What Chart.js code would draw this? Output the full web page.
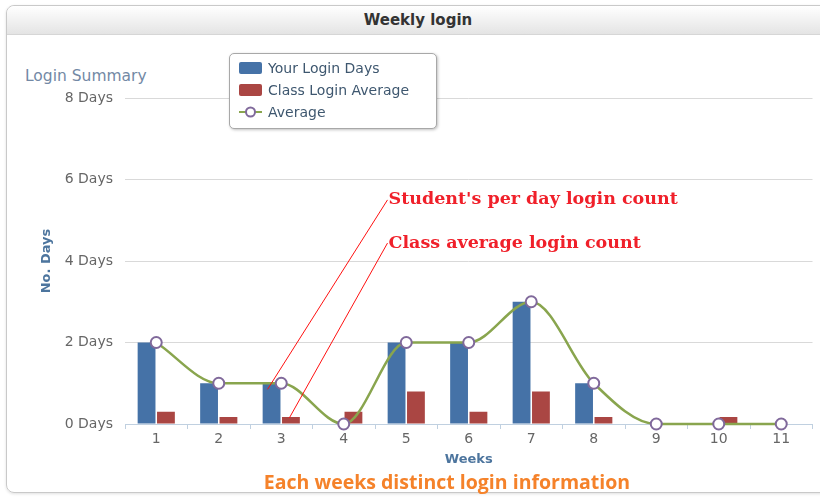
<!DOCTYPE html>
<html>
<head>
<meta charset="utf-8">
<script src="https://cdn.jsdelivr.net/npm/chart.js@4/dist/chart.umd.min.js"></script>
<style>
  body { margin: 0; width: 820px; height: 498px; overflow: hidden; background: #fff; position: relative; font-family: "DejaVu Sans", sans-serif; }
  .panel { position: absolute; left: 6px; top: 5px; width: 840px; height: 486px; border: 1px solid #c9c9c9; border-radius: 8px; box-shadow: 0 1px 3px rgba(0,0,0,0.12); }
  .head { position: absolute; left: 0; top: 0; right: 0; height: 28px; background: linear-gradient(#ffffff, #e4e4e4); border-bottom: 1px solid #d6d6d6; border-radius: 8px 8px 0 0; }
  .title { position: absolute; left: 0; top: 11px; width: 836px; text-align: center; font-weight: bold; font-size: 15px; color: #333; }
  .summary { position: absolute; left: 25px; top: 67px; font-size: 15.5px; color: #7389a5; }
  .caption { position: absolute; left: 0; width: 894px; top: 468px; text-align: center; font-family: "Open Sans", sans-serif; font-weight: bold; font-size: 19.5px; color: #f5822a; }
  canvas { position: absolute; left: 0; top: 0; }
  #legend { position: absolute; left: 229px; top: 53px; width: 206px; height: 74px; border: 1px solid #a8a8a8; border-radius: 5px; background: #fff; box-shadow: 1px 1px 3px rgba(0,0,0,0.25); padding: 0; }
  #legend div { position: absolute; left: 9px; height: 20px; font-size: 14px; color: #3e576f; white-space: nowrap; }
  #legend .sym { display: inline-block; width: 23px; height: 12px; vertical-align: -1px; margin-right: 6px; border-radius: 2px; position: relative; }
</style>
</head>
<body>
<div class="panel"><div class="head"></div></div>
<div class="title">Weekly login</div>
<div class="summary">Login Summary</div>
<canvas id="loginChart" width="820" height="498"></canvas>
<div id="legend"></div>
<div class="caption">Each weeks distinct login information</div>
<script>
const weeks = ['1', '2', '3', '4', '5', '6', '7', '8', '9', '10', '11'];
const yourLoginDays = [2, 1, 1, 0, 2, 2, 3, 1, 0, 0, 0];
const classLoginAverage = [0.3, 0.17, 0.17, 0.3, 0.8, 0.3, 0.8, 0.17, 0, 0.17, 0];
const averageDays = [2, 1, 1, 0, 2, 2, 3, 1, 0, 0, 0];
const yTicks = [0, 2, 4, 6, 8];

// red call-outs, in (week index, days) space
const callouts = [
  { text: "Student's per day login count", from: [1.78, 0.85], to: [3.7, 5.5] },
  { text: 'Class average login count', from: [2.13, 0.15], to: [3.7, 4.44] }
];

const calloutPlugin = {
  id: 'callouts',
  afterDatasetsDraw(chart) {
    const { ctx, scales: { x, y } } = chart;
    ctx.save();
    ctx.strokeStyle = '#ff1010';
    ctx.lineWidth = 1;
    ctx.fillStyle = '#f0202a';
    ctx.font = 'bold 17.5px "DejaVu Serif", serif';
    ctx.textBaseline = 'middle';
    callouts.forEach(c => {
      const x1 = x.getPixelForValue(c.from[0]), y1 = y.getPixelForValue(c.from[1]);
      const x2 = x.getPixelForValue(c.to[0]), y2 = y.getPixelForValue(c.to[1]);
      ctx.beginPath();
      ctx.moveTo(x1, y1);
      ctx.lineTo(x2, y2);
      ctx.stroke();
      ctx.fillText(c.text, x2 + 1, y2);
    });
    ctx.restore();
  }
};

const ctx = document.getElementById('loginChart').getContext('2d');
const loginChart = new Chart(ctx, {
  type: 'bar',
  data: {
    labels: weeks,
    datasets: [
      {
        label: 'Your Login Days',
        data: yourLoginDays,
        backgroundColor: '#4572a7',
        categoryPercentage: 0.62,
        barPercentage: 0.92,
        order: 1
      },
      {
        label: 'Class Login Average',
        data: classLoginAverage,
        backgroundColor: '#aa4643',
        categoryPercentage: 0.62,
        barPercentage: 0.92,
        order: 1
      },
      {
        type: 'line',
        label: 'Average',
        data: averageDays,
        borderColor: '#89a54e',
        borderWidth: 2.5,
        cubicInterpolationMode: 'monotone',
        pointRadius: 5.5,
        pointBackgroundColor: '#fff',
        pointBorderColor: '#80699b',
        pointBorderWidth: 2,
        clip: false,
        order: 0
      }
    ]
  },
  options: {
    responsive: false,
    animation: false,
    layout: { padding: { left: 35, right: 6, top: 98, bottom: 27 } },
    plugins: {
      legend: { display: false },
      tooltip: { enabled: false }
    },
    scales: {
      x: {
        offset: true,
        grid: { offset: true, drawOnChartArea: false, tickLength: 5, color: '#c0d0e0' },
        border: { color: '#c0d0e0' },
        ticks: { color: '#666', font: { size: 14, family: 'DejaVu Sans' }, padding: 2 },
        title: { display: true, text: 'Weeks', color: '#4d759e', font: { size: 13, weight: 'bold', family: 'DejaVu Sans' }, padding: { top: 4, bottom: 4 } },
        afterFit: s => { s.height = 47; }
      },
      y: {
        min: 0,
        max: 8,
        afterBuildTicks: s => { s.ticks = yTicks.map(v => ({ value: v })); },
        grid: { drawTicks: false, color: c => c.tick && c.tick.value === 0 ? 'rgba(0,0,0,0)' : '#d9d9d9' },
        border: { display: false },
        ticks: { color: '#666', font: { size: 14, family: 'DejaVu Sans' }, padding: 12, callback: v => v + ' Days' },
        title: { display: true, text: 'No. Days', color: '#4d759e', font: { size: 13, weight: 'bold', family: 'DejaVu Sans' }, padding: { top: 4, bottom: 4 } },
        afterFit: s => { s.width = 90; }
      }
    }
  },
  plugins: [calloutPlugin]
});

// html legend built from the datasets
const legend = document.getElementById('legend');
loginChart.data.datasets.forEach((ds, i) => {
  const row = document.createElement('div');
  row.style.top = (6 + i * 22) + 'px';
  const sym = document.createElement('span');
  sym.className = 'sym';
  if (ds.type === 'line') {
    sym.innerHTML = '<svg width="23" height="12" style="position:absolute;left:0;top:0">' +
      '<line x1="0" y1="6" x2="23" y2="6" stroke="' + ds.borderColor + '" stroke-width="2"/>' +
      '<circle cx="11.5" cy="6" r="4.5" fill="#fff" stroke="' + ds.pointBorderColor + '" stroke-width="2"/></svg>';
  } else {
    sym.style.background = ds.backgroundColor;
  }
  row.appendChild(sym);
  row.appendChild(document.createTextNode(ds.label));
  legend.appendChild(row);
});
</script>
</body>
</html>
